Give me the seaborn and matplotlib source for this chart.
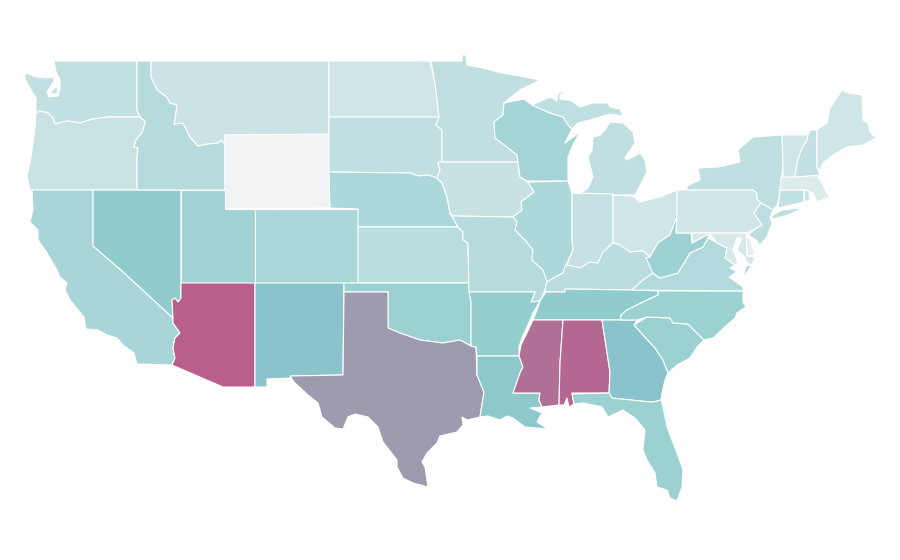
import numpy as np
import pandas as pd
import seaborn as sns
from matplotlib import pyplot as plt
from matplotlib.collections import PolyCollection
from matplotlib.colors import LinearSegmentedColormap, Normalize

# value per state (arbitrary 0-10 scale)
states = ['WA','OR','CA','NV','ID','MT','WY','UT','AZ','CO','NM','ND','SD','NE','KS','OK','TX',
	'MN','IA','MO','AR','LA','WI','IL','MI','IN','OH','KY','TN','MS','AL','GA','FL','SC','NC',
	'VA','WV','PA','NY','NJ','DE','MD','CT','RI','MA','VT','NH','ME']
values = [2.45,2.1,3.8,5.0,3.05,2.0,0.0,4.2,10.0,3.6,5.5,1.75,2.5,3.5,2.8,4.4,7.2,
	2.5,2.15,3.05,4.85,5.2,4.0,3.5,2.55,2.25,1.75,2.8,5.0,9.25,9.6,5.5,4.4,4.4,4.4,
	3.3,4.3,1.7,2.6,2.7,0.5,1.45,2.45,2.1,1.0,1.8,2.4,1.75]

# colour stops of the scale
scale_stops = [0,5,5.5,7.2,10]
scale_colors = ['#f2f3f5','#90cccd','#8ac3cb','#9e9bb0','#b85f8b']

# state outlines, in image pixels
outlines = {
	'WA':[[(54,61),(137,61),(137,110),(140,117),(108,117),(93,119),(80,123),(67,121),(55,124),(53,118),(48,113),(40,111),(36,113),(36,98),(31,90),(25,79),(25,73),(37,77),(48,78),(53,77),(54,81),(47,92),(49,97),(58,96),(60,88),(60,80),(56,72)],
		[(51,92),(56,87),(58,89),(57,94),(52,94)]],
	'OR':[[(36,113),(40,111),(48,113),(53,118),(55,124),(67,121),(80,123),(93,119),(108,117),(140,117),(145,121),(145,123),(142,133),(136,140),(134,147),(138,148),(137,157),(137,190),(30,190),(27,175),(30,163),(33,143),(35,127)]],
	'CA':[[(32,190),(93,190),(93,246),(121,270),(173,318),(173,323),(180,333),(175,338),(173,348),(175,358),(172,365),(137,364),(134,353),(123,345),(117,338),(107,335),(98,330),(86,329),(84,317),(70,300),(65,290),(67,283),(60,277),(57,270),(47,253),(38,240),(38,230),(30,222),(33,210)]],
	'NV':[[(93,190),(181,190),(181,298),(178,302),(175,298),(172,300),(173,318),(121,270),(93,246)]],
	'ID':[[(137,61),(151,61),(151,77),(157,90),(167,97),(170,103),(177,105),(175,120),(174,124),(183,123),(190,137),(198,146),(207,144),(218,143),(221,140),(225,144),(225,190),(137,190),(137,157),(138,148),(134,147),(136,140),(142,133),(145,123),(145,121),(140,117),(137,110)]],
	'MT':[[(151,61),(329,61),(329,135),(225,135),(225,144),(221,140),(218,143),(207,144),(198,146),(190,137),(183,123),(174,124),(175,120),(177,105),(170,103),(167,97),(157,90),(151,77)]],
	'WY':[[(225,135),(329,134),(330,208),(225,209)]],
	'UT':[[(181,190),(225,190),(225,209),(255,209),(255,283),(181,283)]],
	'AZ':[[(181,283),(255,283),(255,387),(223,387),(172,365),(175,358),(173,348),(175,338),(180,333),(173,323),(173,318),(172,300),(175,298),(178,302),(181,298)]],
	'CO':[[(255,209),(358,209),(358,283),(255,283)]],
	'NM':[[(255,283),(344,283),(343,375),(291,376),(291,378),(267,379),(267,387),(255,387)]],
	'ND':[[(329,61),(430,61),(435,83),(437,100),(439,117),(329,117)]],
	'SD':[[(329,117),(439,117),(436,125),(442,130),(442,162),(438,163),(440,170),(437,178),(428,175),(418,176),(411,173),(329,172)]],
	'NE':[[(329,172),(411,173),(418,176),(428,175),(437,178),(442,183),(447,197),(450,213),(458,227),(358,227),(358,209),(330,208)]],
	'KS':[[(358,227),(458,227),(463,232),(463,240),(468,243),(469,283),(358,283)]],
	'OK':[[(344,283),(469,283),(471,303),(471,346),(460,340),(443,343),(420,340),(400,333),(388,328),(388,292),(344,292)]],
	'TX':[[(344,292),(388,292),(388,328),(400,333),(420,340),(443,343),(460,340),(471,346),(476,347),(477,375),(484,392),(480,417),(467,420),(462,417),(463,425),(457,432),(440,436),(437,443),(427,453),(422,462),(425,467),(428,487),(413,483),(403,478),(397,467),(397,460),(383,442),(378,427),(368,417),(355,414),(348,417),(343,429),(335,428),(322,417),(318,403),(308,395),(295,383),(290,376),(343,375)]],
	'MN':[[(431,61),(462,61),(462,55),(466,55),(467,65),(483,68),(502,73),(520,76),(540,80),(520,90),(504,103),(503,115),(494,122),(495,138),(507,147),(517,155),(518,162),(442,162),(442,130),(436,125),(439,117),(437,100),(435,83)]],
	'IA':[[(439,162),(518,162),(520,177),(528,182),(534,192),(521,202),(522,210),(513,217),(452,216),(450,213),(447,197),(442,183),(437,178),(440,170),(438,163)]],
	'MO':[[(452,216),(513,217),(517,222),(515,230),(525,240),(533,250),(532,260),(543,270),(547,280),(545,290),(540,301),(531,302),(535,292),(469,292),(468,243),(463,240),(463,232),(458,227),(450,213)]],
	'AR':[[(469,292),(535,292),(531,302),(540,301),(533,313),(528,325),(523,335),(519,347),(519,356),(477,356),(476,347),(471,346),(471,303)]],
	'LA':[[(477,356),(519,356),(523,367),(520,373),(513,393),(540,393),(539,400),(542,407),(530,408),(542,413),(537,422),(548,429),(525,427),(513,418),(507,416),(500,420),(488,416),(480,417),(484,392),(477,375)]],
	'WI':[[(504,103),(524,99),(532,105),(550,113),(563,117),(568,125),(572,129),(565,143),(580,132),(573,145),(568,157),(568,181),(527,181),(520,177),(518,162),(517,155),(507,147),(495,138),(494,122),(503,115)]],
	'IL':[[(528,182),(568,181),(572,193),(572,240),(573,250),(565,267),(563,273),(550,280),(547,282),(543,270),(532,260),(533,250),(525,240),(515,230),(517,222),(513,217),(522,210),(521,202),(534,192)]],
	'MI':[[(578,195),(588,188),(593,177),(588,157),(592,150),(593,137),(600,135),(605,130),(610,122),(623,123),(633,132),(635,143),(625,158),(627,160),(640,153),(645,160),(647,172),(643,180),(635,195)],
		[(532,105),(550,97),(557,101),(558,93),(568,90),(560,95),(560,99),(572,101),(580,107),(593,103),(608,103),(610,107),(620,109),(623,116),(610,114),(590,120),(578,123),(572,129),(568,125),(563,117),(550,113)]],
	'IN':[[(572,193),(613,194),(613,243),(603,252),(598,263),(590,262),(580,268),(567,265),(573,250),(572,240)]],
	'OH':[[(613,195),(633,196),(640,202),(660,197),(677,190),(677,217),(673,227),(670,235),(658,243),(650,257),(643,251),(630,252),(620,245),(613,243)]],
	'KY':[[(547,282),(550,280),(563,273),(565,267),(567,265),(580,268),(590,262),(598,263),(603,252),(613,243),(620,245),(630,252),(643,251),(650,257),(646,258),(655,273),(643,280),(632,290),(565,289),(565,292),(546,292),(545,290)]],
	'TN':[[(546,292),(565,292),(565,289),(632,290),(658,291),(658,295),(643,302),(627,310),(621,315),(621,320),(533,320),(537,310),(540,301)]],
	'MS':[[(533,320),(563,320),(560,363),(559,405),(542,407),(539,400),(540,393),(513,393),(520,373),(523,367),(519,356),(521,345),(527,333)]],
	'AL':[[(563,320),(602,320),(610,372),(609,393),(572,393),(574,404),(569,407),(567,398),(564,405),(559,405),(560,363)]],
	'GA':[[(602,320),(637,320),(634,325),(643,335),(655,348),(663,360),(668,373),(665,380),(662,393),(661,400),(653,402),(650,402),(612,398),(609,393),(610,372)]],
	'FL':[[(572,394),(609,393),(612,398),(650,402),(653,402),(661,400),(663,407),(667,427),(677,453),(683,470),(682,487),(677,501),(670,498),(667,490),(657,487),(655,473),(647,460),(643,450),(645,430),(635,418),(623,410),(608,417),(602,407),(583,403),(574,404)]],
	'SC':[[(634,325),(647,317),(670,318),(673,323),(688,324),(704,340),(697,347),(690,358),(677,365),(668,373),(663,360),(655,348),(643,335)]],
	'NC':[[(658,291),(743,291),(743,302),(746,307),(737,313),(735,318),(727,325),(713,338),(704,340),(688,324),(673,323),(670,318),(647,317),(637,320),(621,320),(621,315),(627,310),(643,302),(658,295)]],
	'VA':[[(632,290),(643,280),(653,273),(660,278),(678,273),(690,253),(703,247),(708,238),(717,243),(727,248),(725,258),(735,265),(730,268),(737,272),(729,277),(743,287),(743,291)],
		[(752,265),(743,278),(746,266)]],
	'WV':[[(677,217),(676,233),(691,233),(692,243),(703,237),(710,234),(708,238),(703,247),(690,253),(678,273),(660,278),(653,273),(646,258),(650,257),(658,243),(670,235),(673,227)]],
	'PA':[[(677,190),(687,190),(753,190),(757,193),(757,199),(761,203),(754,213),(762,225),(754,230),(746,233),(676,233),(677,217)]],
	'NY':[[(687,190),(687,186),(700,180),(698,168),(718,167),(740,162),(738,150),(753,137),(782,135),(783,163),(781,187),(778,203),(777,205),(773,210),(761,203),(757,199),(757,193),(753,190)],
		[(771,216),(782,210),(800,208),(800,210),(785,216),(773,219)]],
	'NJ':[[(761,203),(773,210),(770,218),(772,223),(767,237),(760,245),(756,240),(748,235),(754,230),(762,225),(754,213)]],
	'DE':[[(746,233),(750,240),(756,255),(747,256)]],
	'MD':[[(692,233),(746,233),(747,256),(755,257),(752,265),(747,263),(745,257),(737,250),(742,238),(737,238),(733,250),(738,262),(735,265),(725,258),(727,248),(717,243),(710,234),(703,237),(692,243)]],
	'CT':[[(780,190),(804,190),(804,202),(778,208)]],
	'RI':[[(804,190),(809,191),(810,200),(805,202)]],
	'MA':[[(781,177),(817,175),(820,180),(827,193),(830,197),(817,202),(813,193),(809,191),(804,190),(780,190)]],
	'VT':[[(782,135),(808,135),(807,140),(802,148),(797,163),(795,177),(783,177),(783,163)]],
	'NH':[[(810,130),(817,130),(817,168),(820,175),(795,177),(797,163),(802,148),(807,140),(808,135)]],
	'ME':[[(817,130),(827,123),(830,108),(842,90),(848,93),(862,95),(863,120),(868,123),(870,132),(876,138),(863,145),(847,147),(833,155),(823,163),(820,170),(817,168)]],
}

df = pd.DataFrame({'state':states,'value':values})

sns.set_theme(style='white')
vmin,vmax = scale_stops[0],scale_stops[-1]
cmap = LinearSegmentedColormap.from_list('scale',[((s-vmin)/(vmax-vmin),c) for s,c in zip(scale_stops,scale_colors)],N=512)

polys = []
poly_values = []
for state,value in zip(df.state,df.value):
	for part in outlines[state]:
		polys.append(part)
		poly_values.append(value)

fig = plt.figure(figsize=(9,5.6),dpi=100)
ax = fig.add_axes([0,0,1,1])
shapes = PolyCollection(polys,array=np.array(poly_values),cmap=cmap,norm=Normalize(vmin,vmax),edgecolors='white',linewidths=0.8)
ax.add_collection(shapes)
ax.set_xlim(0,900)
ax.set_ylim(560,0)
ax.axis('off')
sns.despine(ax=ax,left=True,bottom=True)
fig.savefig('out.png',dpi=100,facecolor='white')
